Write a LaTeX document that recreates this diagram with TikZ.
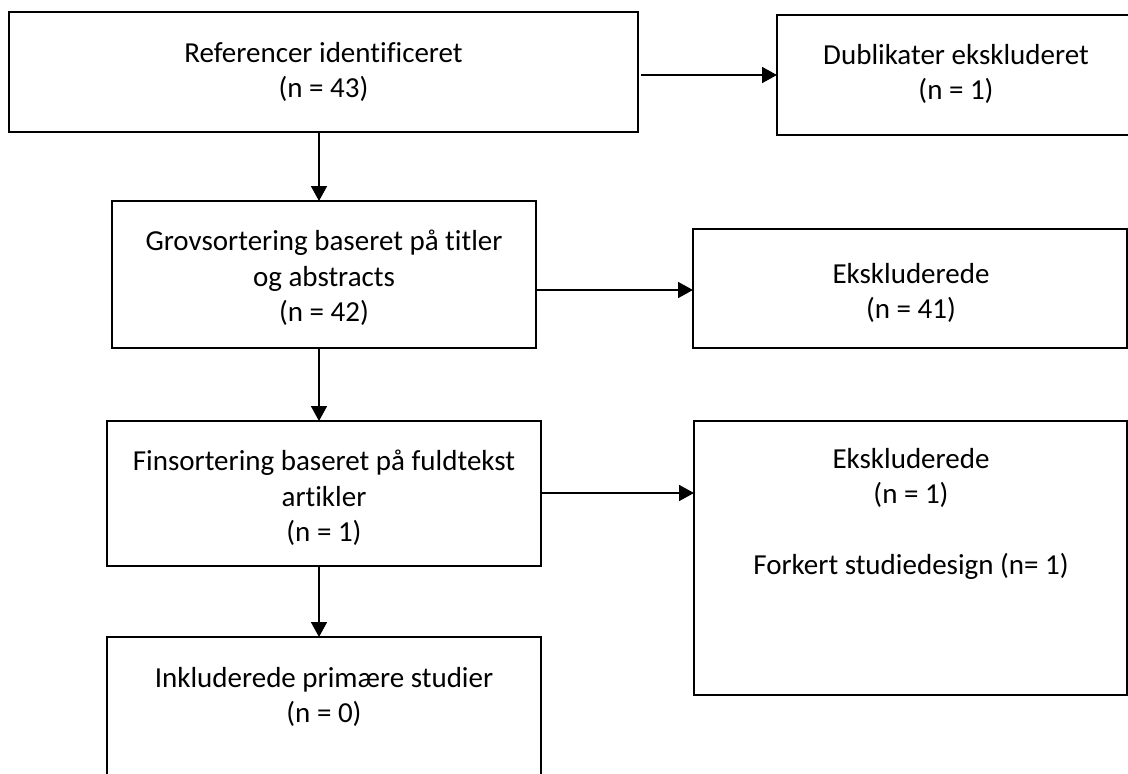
\documentclass[tikz,border=0pt]{standalone}
\usepackage{fontspec}
\setmainfont{Carlito}[Ligatures=CommonOff]
\usetikzlibrary{arrows.meta}
\tikzset{
  box/.style={draw=black, line width=2pt, fill=none},
  lbl/.style={inner sep=0pt, align=center, font=\fontsize{29}{35.5}\selectfont},
  arr/.style={line width=1.7pt, -{Triangle[width=16pt,length=15pt]}},
}
\begin{document}
\begin{tikzpicture}[x=1pt,y=-1pt]
\useasboundingbox (0,0) rectangle (1128,774);
\clip (0,0) rectangle (1128,774);
% boxes
\draw[box] (9,12) rectangle (638,132);
\draw[box] (777,15) rectangle (1140,135);
\draw[box] (112,201) rectangle (536,348);
\draw[box] (693,229) rectangle (1127,348);
\draw[box] (107,421) rectangle (541,566);
\draw[box] (694,421) rectangle (1127,695);
\draw[box] (107,637) rectangle (541,800);
% anchors on the box edges
\coordinate (b1e) at (641,75);
\coordinate (b2w) at (777,75);
\coordinate (b1s) at (319,132);
\coordinate (b3n) at (319,201);
\coordinate (b3e) at (536,290);
\coordinate (b4w) at (693,290);
\coordinate (b3s) at (319,348);
\coordinate (b5n) at (319,421);
\coordinate (b5e) at (541,493);
\coordinate (b6w) at (694,493);
\coordinate (b5s) at (319,566);
\coordinate (b7n) at (319,637);
% texts
\node[lbl] (t1) at (323.5,72) {Referencer identificeret\\(n = 43)};
\node[lbl] (t2) at (956,74) {Dublikater ekskluderet\\(n = 1)};
\node[lbl] (t3) at (324,278) {Grovsortering baseret på titler\\og abstracts\\(n = 42)};
\node[lbl] (t4) at (911,293) {Ekskluderede\\(n = 41)};
\node[lbl] (t5) at (324,498) {Finsortering baseret på fuldtekst\\artikler\\(n = 1)};
\node[lbl] (t6) at (911,514) {Ekskluderede\\(n = 1)\\[35.5pt]Forkert studiedesign (n= 1)};
\node[lbl] (t7) at (324,697) {Inkluderede primære studier\\(n = 0)};
% arrows
\draw[arr] (b1e) -- (b2w);
\draw[arr] (b1s) -- (b3n);
\draw[arr] (b3e) -- (b4w);
\draw[arr] (b3s) -- (b5n);
\draw[arr] (b5e) -- (b6w);
\draw[arr] (b5s) -- (b7n);
\end{tikzpicture}
\end{document}
